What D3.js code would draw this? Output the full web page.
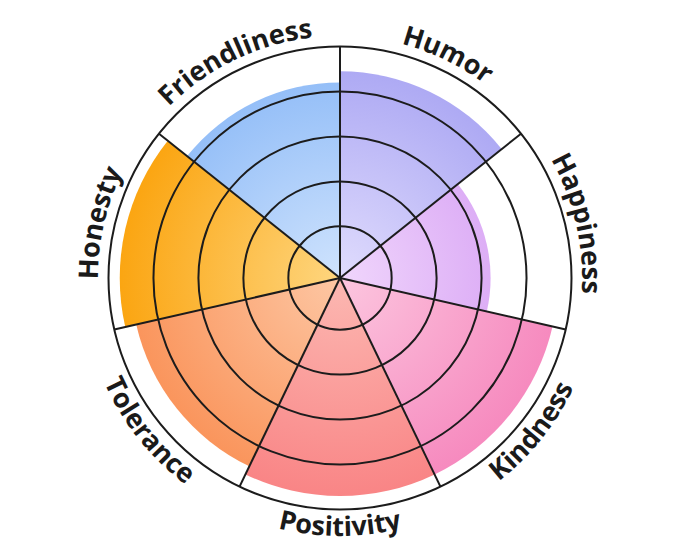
<!DOCTYPE html>
<html>
<head>
<meta charset="utf-8">
<script src="https://cdn.jsdelivr.net/npm/d3@7"></script>
<style>
  body { margin: 0; background: #fff; }
  text { font-family: "Open Sans", "Noto Sans", sans-serif; font-weight: 700; }
</style>
</head>
<body>
<svg width="680" height="557"></svg>
<script>
// traits, clockwise from 12 o'clock
var categories = ["Humor", "Happiness", "Kindness", "Positivity", "Tolerance", "Honesty", "Friendliness"];
var values = [89, 64, 94, 94, 90, 95, 84];
var ringTicks = [20, 40, 60, 80, 100];
var outerColors = ["#aaa6f3", "#d49bf3", "#f689be", "#f98485", "#fa9258", "#fba511", "#8dbaf7"];
var innerColors = ["#e0dcfd", "#f0d6fc", "#fcc6df", "#fcb8b2", "#fdc7a4", "#fed67f", "#cfe3fd"];

var svg = d3.select("svg")
    , width = +svg.attr("width")
    , height = +svg.attr("height")
    , cx = 340, cy = 278
    , g = svg.append("g").attr("transform", "translate(" + cx + "," + cy + ")");

var r = d3.scaleLinear().domain([0, 100]).range([6.7, 231.5]);
var step = 2 * Math.PI / categories.length;
var data = categories.map(function (c, i) {
    return {name: c, value: values[i], start: i * step, end: (i + 1) * step, i: i};
});

// gradients: lighter towards the centre
var defs = svg.append("defs");
data.forEach(function (d) {
    var gr = defs.append("radialGradient")
        .attr("id", "grad" + d.i)
        .attr("gradientUnits", "userSpaceOnUse")
        .attr("cx", 0).attr("cy", 0).attr("r", 222);
    gr.append("stop").attr("offset", 0).attr("stop-color", innerColors[d.i]);
    gr.append("stop").attr("offset", 1).attr("stop-color", outerColors[d.i]);
});

var arc = d3.arc()
    .innerRadius(0)
    .outerRadius(function (d) { return r(d.value); })
    .startAngle(function (d) { return d.start; })
    .endAngle(function (d) { return d.end; });

g.selectAll(".slice").data(data).enter().append("path")
    .attr("class", "slice")
    .attr("d", arc)
    .attr("fill", function (d) { return "url(#grad" + d.i + ")"; });

// rings
g.selectAll(".ring").data(ringTicks).enter().append("circle")
    .attr("class", "ring")
    .attr("r", function (d) { return r(d); })
    .attr("fill", "none")
    .attr("stroke", "#1c1c1c")
    .attr("stroke-width", 2);

// spokes
g.selectAll(".spoke").data(data).enter().append("line")
    .attr("class", "spoke")
    .attr("x1", 0).attr("y1", 0)
    .attr("x2", function (d) { return r(100) * Math.sin(d.start); })
    .attr("y2", function (d) { return -r(100) * Math.cos(d.start); })
    .attr("stroke", "#1c1c1c")
    .attr("stroke-width", 2);

// curved labels
data.forEach(function (d) {
    var mid = (d.start + d.end) / 2;
    var bottom = mid > Math.PI / 2 && mid < 3 * Math.PI / 2;
    var p = d3.path();
    var a = mid - Math.PI / 2;
    if (bottom) {
        p.arc(0, 0, 258, a + Math.PI / 2, a - Math.PI / 2, true);
    } else {
        p.arc(0, 0, 242, a - Math.PI / 2, a + Math.PI / 2, false);
    }
    defs.append("path").attr("id", "lbl" + d.i).attr("d", p.toString());
    g.append("text")
        .attr("font-size", 27)
        .attr("fill", "#1a1a1a")
        .append("textPath")
        .attr("href", "#lbl" + d.i)
        .attr("startOffset", "50%")
        .attr("text-anchor", "middle")
        .text(d.name);
});
</script>
</body>
</html>
